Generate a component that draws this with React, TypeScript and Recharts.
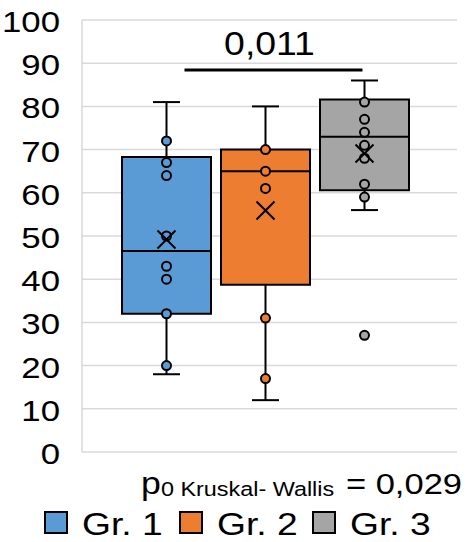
import React from "react";
import {
  ComposedChart,
  Bar,
  Cell,
  Scatter,
  XAxis,
  YAxis,
  CartesianGrid,
  ReferenceLine,
} from "recharts";

const categories = ["Gr. 1", "Gr. 2", "Gr. 3"];
const mins = [18, 12, 56];
const q1s = [32, 38.7, 60.6];
const medians = [46.5, 65, 73];
const q3s = [68.3, 70, 81.6];
const maxs = [81, 80, 86];
const means = [49.2, 55.9, 69.1];
const points1 = [72, 67, 64, 50, 43, 40, 32, 20];
const points2 = [70, 65, 61, 31, 17];
const points3 = [81, 77, 74, 71, 68, 62, 59, 27];
const yTicks = [0, 10, 20, 30, 40, 50, 60, 70, 80, 90, 100];
const sigValue = 88.4;
const sigLabel = "0,011";
const pValue = "0,029";

const colors = ["#5B9BD5", "#ED7D31", "#A5A5A5"];
const FONT = "'Liberation Sans', Arial, sans-serif";

const rows = categories.map((name, i) => ({
  name,
  box: [q1s[i], q3s[i]],
  wh: [mins[i], maxs[i]],
  median: medians[i],
  mean: means[i],
}));

const pointSets = [points1, points2, points3].map((pts, i) =>
  pts.map((v) => ({ name: categories[i], value: v }))
);

// Arial-like text, widened a bit like the original figure
const Stretch = ({ x, y, size, anchor = "start", sx = 1.2, children }: any) => (
  <text
    transform={`translate(${x},${y}) scale(${sx},1)`}
    textAnchor={anchor}
    fontFamily={FONT}
    fontSize={size}
    fill="#000"
  >
    {children}
  </text>
);

const YTick = (props: any) => {
  const { x, y, payload } = props;
  return (
    <Stretch x={x} y={y + 12} size={29} anchor="end">
      {payload.value}
    </Stretch>
  );
};

const Whisker = (props: any) => {
  const { x, y, width, height } = props;
  const cx = x + width / 2;
  return (
    <g stroke="#000" strokeWidth={2}>
      <line x1={cx} x2={cx} y1={y} y2={y + height} />
      <line x1={cx - 13.5} x2={cx + 13.5} y1={y} y2={y} />
      <line x1={cx - 13.5} x2={cx + 13.5} y1={y + height} y2={y + height} />
    </g>
  );
};

const MedianLine = (props: any) => {
  const { cx, cy } = props;
  return <line x1={cx - 44.5} x2={cx + 44.5} y1={cy} y2={cy} stroke="#000" strokeWidth={2} />;
};

const MeanMark = (props: any) => {
  const { cx, cy } = props;
  const r = 9;
  return (
    <g stroke="#000" strokeWidth={2}>
      <line x1={cx - r} x2={cx + r} y1={cy - r} y2={cy + r} />
      <line x1={cx - r} x2={cx + r} y1={cy + r} y2={cy - r} />
    </g>
  );
};

const dot = (fill: string) => (props: any) =>
  <circle cx={props.cx} cy={props.cy} r={4.5} fill={fill} stroke="#000" strokeWidth={2} />;

const SigBar = (props: any) => {
  const { x1, x2, y1 } = props;
  const a = x1 + 18;
  const b = x2 - 2;
  return (
    <g>
      <line x1={a} x2={b} y1={y1} y2={y1} stroke="#000" strokeWidth={3} />
      <Stretch x={(a + b) / 2 - 4} y={y1 - 15} size={34} sx={1.1} anchor="middle">
        {sigLabel}
      </Stretch>
    </g>
  );
};

export default function App() {
  return (
    <div style={{ position: "relative", width: 472, height: 542, background: "#fff" }}>
      <style>{`body{margin:0}`}</style>
      <ComposedChart
        width={472}
        height={480}
        data={rows}
        margin={{ top: 20, right: 15, bottom: 28, left: 0 }}
      >
        <CartesianGrid vertical={false} stroke="#d9d9d9" strokeWidth={1.5} />
        <XAxis
          dataKey="name"
          type="category"
          allowDuplicatedCategory={false}
          hide
          padding={{ left: 35, right: 43 }}
        />
        <XAxis
          xAxisId="wh"
          dataKey="name"
          type="category"
          allowDuplicatedCategory={false}
          hide
          padding={{ left: 35, right: 43 }}
        />
        <YAxis
          domain={[0, 100]}
          ticks={yTicks}
          width={82}
          interval={0}
          axisLine={{ stroke: "#d9d9d9", strokeWidth: 1.5 }}
          tickLine={false}
          tickSize={6}
          tickMargin={16}
          tick={<YTick />}
        />
        <Bar
          xAxisId="wh"
          dataKey="wh"
          barSize={89}
          shape={<Whisker />}
          isAnimationActive={false}
        />
        <Bar dataKey="box" barSize={89} stroke="#000" strokeWidth={2} isAnimationActive={false}>
          {rows.map((r, i) => (
            <Cell key={r.name} fill={colors[i]} />
          ))}
        </Bar>
        <Scatter dataKey="median" shape={<MedianLine />} isAnimationActive={false} />
        {pointSets.map((pts, i) => (
          <Scatter
            key={categories[i]}
            data={pts}
            dataKey="value"
            shape={dot(colors[i])}
            isAnimationActive={false}
          />
        ))}
        <Scatter dataKey="mean" shape={<MeanMark />} isAnimationActive={false} />
        <ReferenceLine
          segment={[
            { x: categories[0], y: sigValue },
            { x: categories[2], y: sigValue },
          ]}
          shape={<SigBar />}
        />
      </ComposedChart>
      <svg
        width={472}
        height={90}
        style={{ position: "absolute", left: 0, top: 452 }}
      >
        <Stretch x={141} y={42} size={31} sx={1.15}>p</Stretch>
        <Stretch x={161} y={44} size={19.5}>0 Kruskal- Wallis</Stretch>
        <Stretch x={462} y={41.5} size={30} sx={1.15} anchor="end">{`= ${pValue}`}</Stretch>
        {categories.map((c, i) => {
          const sx = [45, 180, 313][i];
          return (
            <g key={c}>
              <rect x={sx} y={60} width={22} height={21} fill={colors[i]} stroke="#000" strokeWidth={2} />
              <Stretch x={sx + 37} y={83} size={31}>{c}</Stretch>
            </g>
          );
        })}
      </svg>
    </div>
  );
}
